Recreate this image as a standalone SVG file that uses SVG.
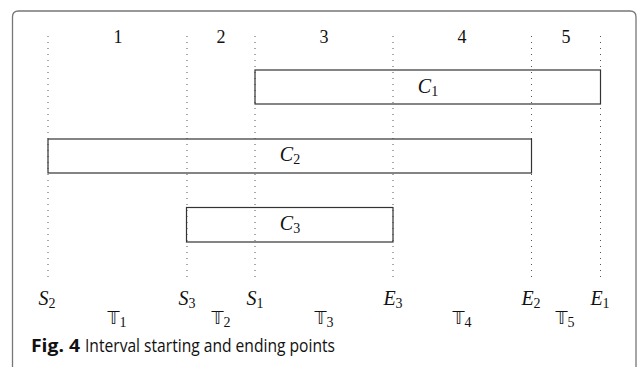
<svg xmlns="http://www.w3.org/2000/svg" width="637" height="367" viewBox="0 0 637 367">
<style>
.frame{fill:none;stroke:#777;stroke-width:1.3}
.guide{stroke:#555;stroke-width:1;stroke-dasharray:1 5;fill:none}
.box{fill:none;stroke:#333;stroke-width:1.2}
.num{font-family:"Liberation Serif",serif;font-size:18px;fill:#111;text-anchor:middle}
.math{font-family:"Liberation Serif",serif;font-style:italic;font-size:20px;fill:#111;text-anchor:middle}
.sub{font-style:normal;font-size:14px;font-family:"Liberation Serif",serif}
.dbl{font-family:"DejaVu Sans",sans-serif;font-size:17px;fill:#111;text-anchor:middle}
.cap{font-family:"Open Sans","Noto Sans",sans-serif;font-size:18px;fill:#111}
</style>
<rect width="637" height="367" fill="#fff"/>
<path class="frame" d="M12.5,367 V17 Q12.5,11 18.5,11 H630 Q636,11 636,17 V367"/>
<g id="connectors">
<line class="guide" x1="48" y1="36" x2="48" y2="277"/>
<line class="guide" x1="187" y1="36" x2="187" y2="277"/>
<line class="guide" x1="255" y1="36" x2="255" y2="277"/>
<line class="guide" x1="393" y1="36" x2="393" y2="277"/>
<line class="guide" x1="531.5" y1="36" x2="531.5" y2="277"/>
<line class="guide" x1="600.5" y1="36" x2="600.5" y2="277"/>
</g>
<g id="intervals">
<text class="num" x="118" y="43">1</text>
<text class="num" x="221" y="43">2</text>
<text class="num" x="324" y="43">3</text>
<text class="num" x="462" y="43">4</text>
<text class="num" x="566" y="43">5</text>
</g>
<g id="C1">
<rect class="box" x="255" y="70" width="345.5" height="34"/>
<text class="math" x="428" y="93">C<tspan class="sub" dy="3">1</tspan></text>
</g>
<g id="C2">
<rect class="box" x="48" y="139" width="483.5" height="34"/>
<text class="math" x="290" y="161">C<tspan class="sub" dy="3">2</tspan></text>
</g>
<g id="C3">
<rect class="box" x="186.5" y="207.5" width="206.5" height="34.5"/>
<text class="math" x="290" y="230">C<tspan class="sub" dy="3">3</tspan></text>
</g>
<g id="points">
<text class="math" x="47" y="305">S<tspan class="sub" dy="3">2</tspan></text>
<text class="math" x="187" y="305">S<tspan class="sub" dy="3">3</tspan></text>
<text class="math" x="255" y="305">S<tspan class="sub" dy="3">1</tspan></text>
<text class="math" x="393" y="305">E<tspan class="sub" dy="3">3</tspan></text>
<text class="math" x="531" y="305">E<tspan class="sub" dy="3">2</tspan></text>
<text class="math" x="600" y="305">E<tspan class="sub" dy="3">1</tspan></text>
</g>
<g id="periods">
<text class="dbl" x="117" y="324">𝕋<tspan class="sub" dy="3">1</tspan></text>
<text class="dbl" x="221" y="324">𝕋<tspan class="sub" dy="3">2</tspan></text>
<text class="dbl" x="324" y="324">𝕋<tspan class="sub" dy="3">3</tspan></text>
<text class="dbl" x="462" y="324">𝕋<tspan class="sub" dy="3">4</tspan></text>
<text class="dbl" x="565" y="324">𝕋<tspan class="sub" dy="3">5</tspan></text>
</g>
<g id="caption">
<text class="cap" x="31" y="352" font-weight="bold" textLength="49" lengthAdjust="spacingAndGlyphs">Fig. 4</text>
<text class="cap" x="85" y="352" textLength="250" lengthAdjust="spacingAndGlyphs">Interval starting and ending points</text>
</g>
</svg>
